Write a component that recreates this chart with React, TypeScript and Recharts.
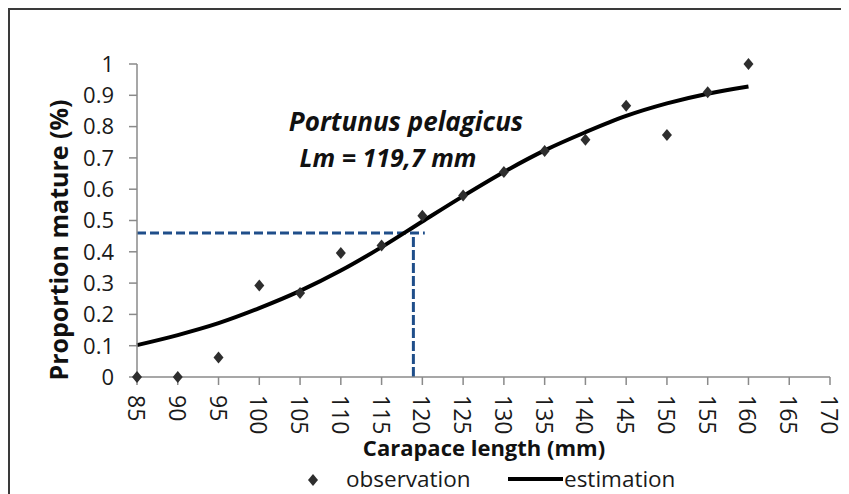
import {
  ComposedChart,
  Line,
  Scatter,
  XAxis,
  YAxis,
  ReferenceLine,
  Legend,
  Customized,
} from 'recharts'

const FONT = '"Open Sans", "Liberation Sans", sans-serif'

// carapace length classes (mm)
const lengths = [85, 90, 95, 100, 105, 110, 115, 120, 125, 130, 135, 140, 145, 150, 155, 160]
// observed proportion mature per class
const observed = [0, 0, 0.062, 0.292, 0.268, 0.396, 0.42, 0.515, 0.58, 0.655, 0.722, 0.758, 0.867, 0.773, 0.91, 1.0]
// fitted logistic curve
const estimated = [0.102, 0.134, 0.172, 0.22, 0.275, 0.34, 0.415, 0.497, 0.578, 0.655, 0.724, 0.782, 0.834, 0.874, 0.905, 0.928]

const xTicks = [85, 90, 95, 100, 105, 110, 115, 120, 125, 130, 135, 140, 145, 150, 155, 160, 165, 170]
const yTicks = [0, 0.1, 0.2, 0.3, 0.4, 0.5, 0.6, 0.7, 0.8, 0.9, 1]

// dashed guide for L50
const guideY = 0.46
const guideXEnd = 120.3
const guideXDrop = 118.9

const data = lengths.map((x, i) => ({ x, obs: observed[i], est: estimated[i] }))

const BLUE = '#1f4e8a'
const AXIS = '#8a8a8a'

const Diamond = (props: any) => {
  const { cx, cy } = props
  if (cx == null || cy == null) return null
  return (
    <polygon
      points={`${cx},${cy - 6} ${cx + 5},${cy} ${cx},${cy + 6} ${cx - 5},${cy}`}
      fill="#2e2e2e"
    />
  )
}

const XTick = ({ x, y, payload }: any) => (
  <text
    x={x}
    y={y + 8}
    transform={`rotate(90 ${x} ${y + 8})`}
    textAnchor="start"
    dominantBaseline="central"
    fontSize={23}
    fontFamily={FONT}
    fill="#1a1a1a"
  >
    {payload.value}
  </text>
)

const LegendBox = () => (
  <svg width={400} height={36} style={{ display: 'block' }}>
    <polygon points="13,16 18,22 13,28 8,22" fill="#2e2e2e" />
    <text x={46} y={29} fontSize={22.5} fontFamily={FONT} fill="#1a1a1a">
      observation
    </text>
    <line x1={208} y1={21} x2={263} y2={21} stroke="#000" strokeWidth={4} />
    <text x={264} y={29} fontSize={22.5} fontFamily={FONT} fill="#1a1a1a">
      estimation
    </text>
  </svg>
)

const Texts = () => (
  <g fontFamily={FONT} fill="#111">
    <text x={396} y={121} textAnchor="middle" fontSize={26} fontWeight="bold" fontStyle="italic">
      Portunus pelagicus
    </text>
    <text x={378} y={157} textAnchor="middle" fontSize={25} fontWeight="bold" fontStyle="italic">
      Lm = 119,7 mm
    </text>
    <text x={474} y={446} textAnchor="middle" fontSize={22} fontWeight="bold">
      Carapace length (mm)
    </text>
    <text
      x={48}
      y={230}
      transform="rotate(-90 48 230)"
      textAnchor="middle"
      dominantBaseline="central"
      fontSize={25}
      fontWeight="bold"
    >
      Proportion mature (%)
    </text>
  </g>
)

export default function App() {
  return (
    <div
      style={{
        position: 'relative',
        width: 839,
        height: 484,
        borderTop: '2px solid #3a3a3a',
        borderLeft: '2px solid #3a3a3a',
        background: '#fff',
      }}
    >
      <ComposedChart
        width={839}
        height={484}
        data={data}
        margin={{ top: 54, right: 19, bottom: 0, left: 0 }}
      >
        <XAxis
          type="number"
          dataKey="x"
          domain={[85, 170]}
          ticks={xTicks}
          interval={0}
          height={117}
          tickSize={8}
          axisLine={{ stroke: AXIS, strokeWidth: 1.5 }}
          tickLine={{ stroke: AXIS, strokeWidth: 1.5 }}
          tick={<XTick />}
        />
        <YAxis
          type="number"
          domain={[0, 1]}
          ticks={yTicks}
          interval={0}
          width={127}
          tickSize={8}
          tickMargin={15}
          axisLine={{ stroke: AXIS, strokeWidth: 1.5 }}
          tickLine={{ stroke: AXIS, strokeWidth: 1.5 }}
          tick={{ fontSize: 22, fontFamily: FONT, fill: '#1a1a1a' }}
        />
        <ReferenceLine
          segment={[{ x: 85, y: guideY }, { x: guideXEnd, y: guideY }]}
          stroke={BLUE}
          strokeWidth={3}
          strokeDasharray="9 4"
        />
        <ReferenceLine
          segment={[{ x: guideXDrop, y: 0 }, { x: guideXDrop, y: guideY }]}
          stroke={BLUE}
          strokeWidth={3}
          strokeDasharray="10 3"
        />
        <Scatter dataKey="obs" shape={<Diamond />} isAnimationActive={false} />
        <Line
          type="monotone"
          dataKey="est"
          stroke="#000"
          strokeWidth={4}
          dot={false}
          activeDot={false}
          isAnimationActive={false}
        />
        <Legend
          layout="horizontal"
          verticalAlign="middle"
          align="center"
          wrapperStyle={{ left: 290, top: 448, width: 400, height: 36 }}
          content={<LegendBox />}
        />
        <Customized component={<Texts />} />
      </ComposedChart>
    </div>
  )
}
